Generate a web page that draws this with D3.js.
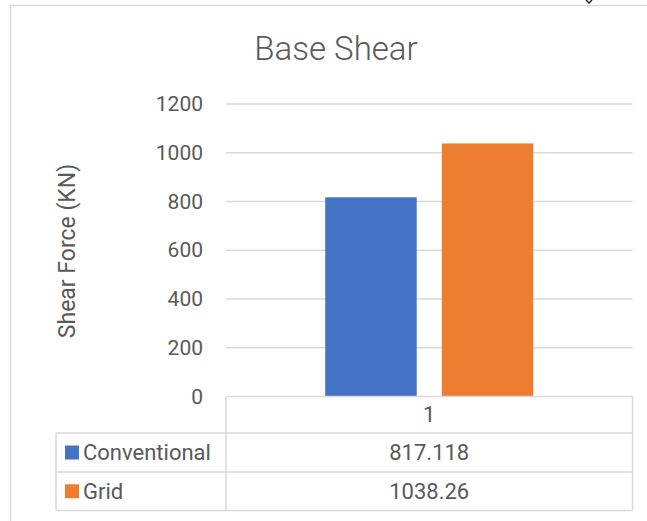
<!DOCTYPE html>
<html>
<head>
<meta charset="utf-8">
<script src="https://cdn.jsdelivr.net/npm/d3@7"></script>
<style>
  html, body { margin: 0; padding: 0; background: #fff; }
  svg { display: block; }
</style>
</head>
<body>
<svg id="chart" width="647" height="521"></svg>
<script>
// ---- data ----
const title = "Base Shear";
const yAxisTitle = "Shear Force (KN)";
const categories = ["1"];
const seriesNames = ["Conventional", "Grid"];
const seriesColors = ["#4472C4", "#ED7D31"];
const conventionalValues = [817.118];
const gridValues = [1038.26];
const yTicks = [0, 200, 400, 600, 800, 1000, 1200];

const seriesValues = [conventionalValues, gridValues];

// ---- layout ----
const svg = d3.select("#chart");
const plotLeft = 226, plotRight = 632.5, plotTop = 104, plotBottom = 396.5;
const gridColor = "#d9d9d9";
const textColor = "#595959";
const bodyFont = "Roboto, 'Open Sans', sans-serif";

// outer chart border (extends beyond the visible frame)
svg.append("rect")
  .attr("x", 10.5).attr("y", 5.5).attr("width", 700).attr("height", 600)
  .attr("fill", "none").attr("stroke", gridColor).attr("stroke-width", 1.5);

// cut-off mark at the top right edge of the picture
svg.append("path")
  .attr("d", "M586,0 L589,3 L592,0")
  .attr("fill", "none").attr("stroke", "#222").attr("stroke-width", 1.5);

const y = d3.scaleLinear().domain([0, 1200]).range([plotBottom, plotTop]);
const x0 = d3.scaleBand().domain(categories).range([plotLeft, plotRight])
  .paddingInner(0).paddingOuter(0.477);
const x1 = d3.scaleBand().domain(seriesNames).range([0, x0.bandwidth()])
  .paddingInner(0.215).paddingOuter(0);

// title
svg.append("text")
  .attr("x", 336).attr("y", 60)
  .attr("text-anchor", "middle")
  .attr("font-family", bodyFont)
  .attr("font-weight", 300)
  .attr("font-size", 33)
  .attr("fill", textColor)
  .text(title);

// gridlines
svg.append("g")
  .selectAll("line")
  .data(yTicks.filter(d => d > 0))
  .join("line")
  .attr("x1", plotLeft).attr("x2", plotRight)
  .attr("y1", d => y(d)).attr("y2", d => y(d))
  .attr("stroke", gridColor).attr("stroke-width", 1.3);

// y axis tick labels
const yAxis = d3.axisLeft(y).tickValues(yTicks).tickFormat(d3.format("d")).tickSize(0).tickPadding(0);
const gy = svg.append("g").attr("transform", `translate(203,0)`).call(yAxis);
gy.select(".domain").remove();
gy.selectAll("text")
  .attr("font-family", bodyFont).attr("font-size", 21)
  .attr("fill", textColor);

// y axis title
svg.append("text")
  .attr("transform", `translate(75,251) rotate(-90)`)
  .attr("text-anchor", "middle")
  .attr("font-family", bodyFont).attr("font-size", 23)
  .attr("fill", textColor)
  .text(yAxisTitle);

// bars
const groups = svg.append("g").selectAll("g")
  .data(categories)
  .join("g")
  .attr("transform", d => `translate(${x0(d)},0)`);

groups.selectAll("rect")
  .data((d, ci) => seriesNames.map((s, si) => ({ s, si, v: seriesValues[si][ci] })))
  .join("rect")
  .attr("x", d => x1(d.s))
  .attr("width", x1.bandwidth())
  .attr("y", d => y(d.v))
  .attr("height", d => y(0) - y(d.v))
  .attr("fill", d => seriesColors[d.si]);

// data table
const rowTop = [plotBottom, 433, 472];
const rowBottom = 510.5;
const tableLeft = 56;
const tg = svg.append("g");
const lineAttrs = sel => sel.attr("stroke", gridColor).attr("stroke-width", 1.5).attr("fill", "none");

tg.append("line").attr("x1", plotLeft).attr("x2", plotRight).attr("y1", plotBottom).attr("y2", plotBottom).call(lineAttrs);
[433, 472, rowBottom].forEach(yy => {
  tg.append("line").attr("x1", tableLeft).attr("x2", plotRight).attr("y1", yy).attr("y2", yy).call(lineAttrs);
});
tg.append("line").attr("x1", plotLeft).attr("x2", plotLeft).attr("y1", plotBottom).attr("y2", rowBottom).call(lineAttrs);
tg.append("line").attr("x1", plotRight).attr("x2", plotRight).attr("y1", plotBottom).attr("y2", rowBottom).call(lineAttrs);
tg.append("line").attr("x1", tableLeft).attr("x2", tableLeft).attr("y1", 433).attr("y2", rowBottom).call(lineAttrs);

categories.forEach(c => {
  tg.append("text")
    .attr("x", x0(c) + x0.bandwidth() / 2).attr("y", (rowTop[0] + rowTop[1]) / 2)
    .attr("dy", "0.35em").attr("text-anchor", "middle")
    .attr("font-family", bodyFont).attr("font-size", 22).attr("fill", textColor)
    .text(c);
});

seriesNames.forEach((s, si) => {
  const top = rowTop[si + 1];
  const bottom = si + 2 < rowTop.length ? rowTop[si + 2] : rowBottom;
  const cy = (top + bottom) / 2;
  tg.append("rect")
    .attr("x", 65).attr("y", cy - 7).attr("width", 14).attr("height", 14)
    .attr("fill", seriesColors[si]);
  tg.append("text")
    .attr("x", 83).attr("y", cy).attr("dy", "0.35em")
    .attr("font-family", bodyFont).attr("font-size", 22).attr("fill", textColor)
    .text(s);
  categories.forEach((c, ci) => {
    tg.append("text")
      .attr("x", x0(c) + x0.bandwidth() / 2).attr("y", cy).attr("dy", "0.35em")
      .attr("text-anchor", "middle")
      .attr("font-family", bodyFont).attr("font-size", 22).attr("fill", textColor)
      .text(String(seriesValues[si][ci]));
  });
});
</script>
</body>
</html>
